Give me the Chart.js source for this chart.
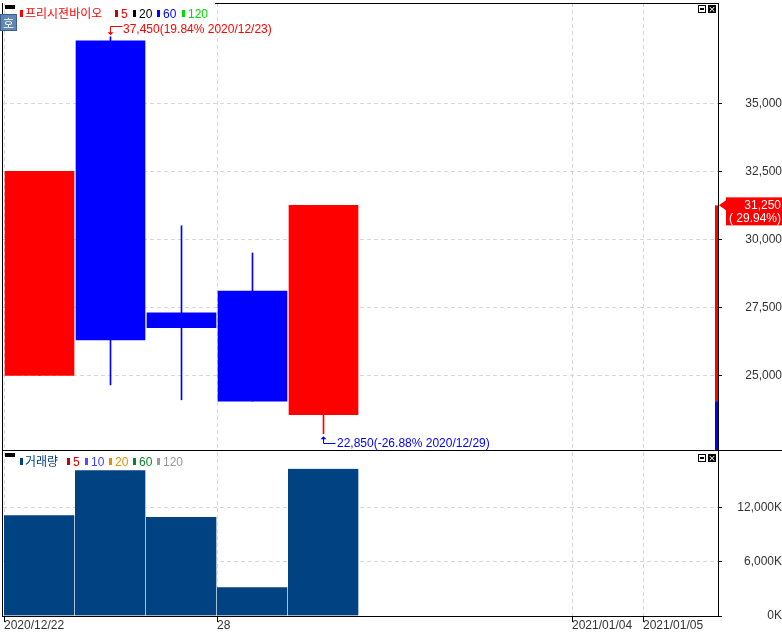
<!DOCTYPE html>
<html><head><meta charset="utf-8">
<script src="https://cdn.jsdelivr.net/npm/chart.js@4.4.0/dist/chart.umd.min.js"></script>
<style>
html,body{margin:0;padding:0;background:#fff;}
#wrap{position:relative;width:782px;height:632px;overflow:hidden;background:#fff;}
canvas{position:absolute;left:0;}
.ln{position:absolute;background:#000;}
.t{position:absolute;white-space:nowrap;font:12px/14px "Liberation Sans",Arial,sans-serif;}
.k{font-family:"Noto Sans CJK KR",sans-serif;}
.mk{position:absolute;width:3px;height:7px;}
.blk{position:absolute;width:10px;height:4px;background:#000;}
.ic1{position:absolute;width:6px;height:6px;border:1px solid #000;background:#fff;}
.ic1 i{position:absolute;left:1px;top:2px;width:4px;height:2px;background:#000;}
.ic2{position:absolute;width:8px;height:8px;background:#000;color:#fff;font:9px/8px "DejaVu Sans",sans-serif;text-align:center;}
.ho{position:absolute;left:0;top:14px;width:17px;height:17px;background:#6286b2;border:1px solid #3d5f88;box-sizing:border-box;color:#fff;font:12px/15px "Noto Sans CJK KR",sans-serif;text-align:center;}
</style></head><body><div id="wrap">
<canvas id="c1" width="782" height="451" style="top:0"></canvas>
<canvas id="c2" width="782" height="181" style="top:451px"></canvas>

<div class="ln" style="left:215px;top:3px;width:504px;height:1px"></div>
<div class="ln" style="left:2px;top:3px;width:1px;height:614px"></div>
<div class="ln" style="left:718px;top:3px;width:1px;height:614px"></div>
<div class="ln" style="left:2px;top:450px;width:780px;height:1px"></div>

<!-- price legend -->
<div class="blk" style="left:5px;top:5px"></div>
<div class="mk" style="left:20px;top:10px;background:#ff0000"></div>
<div class="t k" style="left:25px;top:6px;color:#ff0000">프리시젼바이오</div>
<div class="mk" style="left:115px;top:10px;background:#cc0000"></div>
<div class="t" style="left:121px;top:7px;color:#ff0000">5</div>
<div class="mk" style="left:133px;top:10px;background:#000"></div>
<div class="t" style="left:139px;top:7px;color:#000">20</div>
<div class="mk" style="left:157px;top:10px;background:#0000ff"></div>
<div class="t" style="left:163px;top:7px;color:#0000ff">60</div>
<div class="mk" style="left:182px;top:10px;background:#00dd00"></div>
<div class="t" style="left:188px;top:7px;color:#00dd00">120</div>
<div class="ho">호</div>
<div class="ic1" style="left:698px;top:5px"><i></i></div>
<div class="ic2" style="left:708px;top:5px">×</div>

<!-- volume legend -->
<div class="blk" style="left:5px;top:453px"></div>
<div class="mk" style="left:20px;top:458px;background:#004080"></div>
<div class="t k" style="left:25px;top:454px;color:#004080">거래량</div>
<div class="mk" style="left:67px;top:458px;background:#cc0000"></div>
<div class="t" style="left:73px;top:455px;color:#dd0000">5</div>
<div class="mk" style="left:85px;top:458px;background:#5050ff"></div>
<div class="t" style="left:91px;top:455px;color:#4040ff">10</div>
<div class="mk" style="left:109px;top:458px;background:#e09000"></div>
<div class="t" style="left:115px;top:455px;color:#e09000">20</div>
<div class="mk" style="left:133px;top:458px;background:#108030"></div>
<div class="t" style="left:139px;top:455px;color:#108030">60</div>
<div class="mk" style="left:157px;top:458px;background:#999"></div>
<div class="t" style="left:163px;top:455px;color:#999">120</div>
<div class="ic1" style="left:698px;top:454px"><i></i></div>
<div class="ic2" style="left:708px;top:454px">×</div>
</div>
<script>
// ---- data ----
const candleDates = ['2020/12/22','2020/12/23','2020/12/24','2020/12/28','2020/12/29'];
const candleSlots = [0, 1, 2, 3, 4];
const opens  = [25000, 37300, 27300, 28100, 23550];
const highs  = [32500, 37450, 30500, 29500, 31250];
const lows   = [25000, 24650, 24100, 24050, 22850];
const closes = [32500, 26300, 26750, 24050, 31250];
const volumesK = [11200, 16200, 11000, 3200, 16350];
const xTickSlots  = [0, 3, 8, 9];
const xTickLabels = ['2020/12/22', '28', '2021/01/04', '2021/01/05'];
const priceTicks  = [25000, 27500, 30000, 32500, 35000];
const volumeTicks = [0, 6000, 12000];
const currentPrice = 31250;
const prevClose = 24050;

const UP = '#ff0000', DOWN = '#0000ff', VOL = '#004282';
const FONT = {family: '"Liberation Sans", Arial, sans-serif', size: 12};
const fmt = v => v.toLocaleString('en-US');
const pct = (v, base) => ((v / base - 1) * 100).toFixed(2);
const candleColors = closes.map((c, i) => c >= opens[i] ? UP : DOWN);

const X_MIN = -1 / 71, X_MAX = 714 / 71;

function xScale(showLabels) {
  return {
    type: 'linear', min: X_MIN, max: X_MAX, offset: false,
    afterBuildTicks: s => { s.ticks = xTickSlots.map(v => ({value: v})); },
    afterFit: s => { s.height = showLabels ? 16 : 0; s.paddingLeft = 0; s.paddingRight = 0; s.paddingTop = 0; s.paddingBottom = 0; },
    grid: {offset: false, color: '#d8d8d8', drawTicks: showLabels, tickLength: 6, tickColor: '#000', tickBorderDash: []},
    border: {display: showLabels, color: '#000', dash: [4, 3]},
    ticks: {display: showLabels, autoSkip: false, maxRotation: 0, minRotation: 0, align: 'start',
      padding: -4, color: '#333', font: FONT, callback: (v, i) => xTickLabels[i]}
  };
}

const notesPlugin = {
  id: 'notes',
  afterDraw(chart) {
    const {ctx, chartArea: ca, scales: {x, y}} = chart;
    ctx.save();
    ctx.font = '12px "Liberation Sans", Arial, sans-serif';
    ctx.lineWidth = 1;
    // highest price note
    const hi = Math.max(...highs), hiIdx = highs.indexOf(hi);
    const hx = Math.floor(x.getPixelForValue(candleSlots[hiIdx] + 0.5)) + 0.5;
    const hy = y.getPixelForValue(hi);
    ctx.strokeStyle = ctx.fillStyle = '#ff0000';
    const hl = Math.round(hy - 11) + 0.5;
    ctx.beginPath(); ctx.moveTo(hx, hy - 3); ctx.lineTo(hx, hl); ctx.lineTo(hx + 12, hl); ctx.stroke();
    ctx.beginPath(); ctx.moveTo(hx - 3, hy - 4.5); ctx.lineTo(hx + 3, hy - 4.5); ctx.lineTo(hx, hy - 1.5); ctx.closePath(); ctx.fill();
    ctx.textAlign = 'left'; ctx.textBaseline = 'alphabetic';
    ctx.fillText(`${fmt(hi)}(${pct(hi, currentPrice)}% ${candleDates[hiIdx]})`, hx + 12.5, hy - 4);
    // lowest price note
    const lo = Math.min(...lows), loIdx = lows.indexOf(lo);
    const lx = Math.floor(x.getPixelForValue(candleSlots[loIdx] + 0.5)) + 0.5;
    const ly = y.getPixelForValue(lo);
    ctx.strokeStyle = ctx.fillStyle = '#0000ff';
    const ll = Math.round(ly + 9) + 0.5;
    ctx.beginPath(); ctx.moveTo(lx, ly + 5); ctx.lineTo(lx, ll); ctx.lineTo(lx + 12, ll); ctx.stroke();
    ctx.beginPath(); ctx.moveTo(lx - 3, ly + 5.5); ctx.lineTo(lx + 3, ly + 5.5); ctx.lineTo(lx, ly + 2.5); ctx.closePath(); ctx.fill();
    ctx.fillText(`${fmt(lo)}(${pct(lo, currentPrice)}% ${candleDates[loIdx]})`, lx + 13.5, ly + 13);
    // current price marker
    const cy = y.getPixelForValue(currentPrice);
    const py = y.getPixelForValue(prevClose);
    ctx.fillStyle = UP; ctx.fillRect(ca.right - 3, cy, 3, py - cy);
    ctx.fillStyle = DOWN; ctx.fillRect(ca.right - 3, py, 3, ca.bottom - py);
    ctx.fillStyle = UP;
    ctx.beginPath(); ctx.moveTo(ca.right + 1, cy); ctx.lineTo(ca.right + 8, cy - 5); ctx.lineTo(ca.right + 8, cy + 5); ctx.closePath(); ctx.fill();
    ctx.fillRect(ca.right + 8, cy - 8, chart.width - ca.right - 8, 28);
    ctx.fillStyle = '#fff'; ctx.textAlign = 'right';
    ctx.fillText(fmt(currentPrice), chart.width - 1, cy + 4);
    ctx.fillText(`( ${pct(currentPrice, prevClose)}%)`, chart.width - 1, cy + 17);
    ctx.restore();
  }
};

new Chart(document.getElementById('c1'), {
  type: 'bar',
  data: {datasets: [
    {label: 'wick', data: candleSlots.map((s, i) => ({x: s + 0.5, y: [lows[i], highs[i]]})),
     backgroundColor: candleColors, barThickness: 1, maxBarThickness: 1, grouped: false, order: 2, borderWidth: 0},
    {label: 'body', data: candleSlots.map((s, i) => ({x: s + 0.5, y: [opens[i], closes[i]]})),
     backgroundColor: candleColors, barThickness: 69, maxBarThickness: 69, grouped: false, order: 1, borderWidth: 0}
  ]},
  options: {
    responsive: false, animation: false, devicePixelRatio: 1,
    layout: {padding: {left: 3, top: 3, right: 0, bottom: 1}},
    plugins: {legend: {display: false}, tooltip: {enabled: false}},
    scales: {
      x: xScale(false),
      y: {
        position: 'right', min: 22255, max: 38690,
        afterBuildTicks: s => { s.ticks = priceTicks.map(v => ({value: v})); },
        afterFit: s => { s.width = 64; s.paddingTop = 0; s.paddingBottom = 0; s.paddingLeft = 0; s.paddingRight = 0; },
        grid: {color: '#d8d8d8', tickLength: 4, tickColor: '#000', tickBorderDash: []},
        border: {display: true, color: '#000', dash: [4, 3]},
        ticks: {color: '#333', font: FONT, crossAlign: 'far', padding: 22, callback: v => fmt(v)}
      }
    }
  },
  plugins: [notesPlugin]
});

new Chart(document.getElementById('c2'), {
  type: 'bar',
  data: {datasets: [
    {label: '거래량', data: candleSlots.map((s, i) => ({x: s + 0.5, y: volumesK[i]})),
     backgroundColor: VOL, borderColor: '#ffffff', borderSkipped: false,
     borderWidth: {left: 0, top: 0, bottom: 0, right: 1},
     barThickness: 71, maxBarThickness: 71, grouped: false}
  ]},
  options: {
    responsive: false, animation: false, devicePixelRatio: 1,
    layout: {padding: {left: 3, top: 1, right: 0, bottom: 0}},
    plugins: {legend: {display: false}, tooltip: {enabled: false}},
    scales: {
      x: xScale(true),
      y: {
        position: 'right', min: 0, max: 18220,
        afterBuildTicks: s => { s.ticks = volumeTicks.map(v => ({value: v})); },
        afterFit: s => { s.width = 64; s.paddingTop = 0; s.paddingBottom = 0; s.paddingLeft = 0; s.paddingRight = 0; },
        grid: {color: '#d8d8d8', tickLength: 4, tickColor: '#000', tickBorderDash: []},
        border: {display: true, color: '#000', dash: [4, 3]},
        ticks: {color: '#333', font: FONT, crossAlign: 'far', padding: 14, callback: v => fmt(v) + 'K'}
      }
    }
  }
});
</script>
</body></html>
